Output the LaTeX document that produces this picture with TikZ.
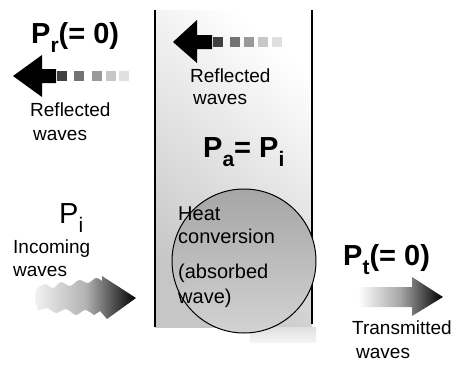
\documentclass[tikz,border=0pt]{standalone}
\usepackage{fontspec}
\setmainfont{Liberation Sans}
\newcommand\psub[1]{\raisebox{-0.32em}{\fontsize{21}{21}\selectfont #1}}
\begin{document}
\begin{tikzpicture}[x=1pt, y=-1pt,
  lbl/.style  = {anchor=base west, inner sep=0pt, font=\fontsize{19}{19}\selectfont},
  bigp/.style = {anchor=base west, inner sep=0pt, font=\fontsize{29}{29}\selectfont\bfseries},
  thinp/.style = {bigp, font=\fontsize{29}{29}\selectfont},
  inner/.style = {anchor=base west, inner sep=0pt, font=\fontsize{20}{20}\selectfont},
  sq/.style   = {minimum size=10pt, inner sep=0pt},
  wall/.style = {line width=1.8pt},
]
\useasboundingbox (0,0) rectangle (472,367);

% absorbing layer
\shade[top color=white, bottom color=gray!45, shading angle=-40] (155,10) rectangle (312,327);
\shade[top color=gray!25, bottom color=gray!8] (250,327) rectangle (316,342);
\draw[wall] (155,10) -- (155,327);
\draw[wall] (312,10) -- (312,324);

% absorbed part
\shade[draw=black, line width=1pt, top color=gray!70, bottom color=gray!35] (244,261) circle (72);
\node[inner] (heat) at (178,220) {Heat};
\node[inner] (conv) at (178,243) {conversion};
\node[inner] (absb) at (178,278) {(absorbed};
\node[inner] (wave) at (178,303) {wave)};

% reflected waves (outside)
\fill (13,76) -- (42,55) -- (42,69) -- (56,69) -- (56,83) -- (42,83) -- (42,97) -- cycle;
\foreach \x/\c in {62/75, 79/55, 97/40, 111/22, 124/12}
  \node[sq, fill=black!\c] at (\x,76) {};
\node[bigp] (pr) at (31,43) {P\psub{r}(= 0)};
\node[lbl] (refl1) at (30,116) {Reflected};
\node[lbl] (refw1) at (33,140) {waves};

% reflected waves (inside)
\fill (173,42) -- (197,20) -- (197,35) -- (212,35) -- (212,49) -- (197,49) -- (197,63) -- cycle;
\foreach \x/\c in {218/75, 235/55, 249/40, 263/22, 277/12}
  \node[sq, fill=black!\c] at (\x,42) {};
\node[lbl] (refl2) at (190,82) {Reflected};
\node[lbl] (refw2) at (193,104) {waves};

\node[bigp] (pa) at (203,157) {P\psub{a}= P\psub{i}};

% incoming waves
\node[thinp] (pi) at (59,223) {P\psub{i}};
\node[lbl] (inc) at (13,253) {Incoming};
\node[lbl] (incw) at (13,276) {waves};
\shade[left color=gray!10, right color=black, middle color=gray!60]
  plot[smooth] coordinates {(36,289) (45,284) (53,288) (61,282) (70,286) (79,280) (88,283) (96,278) (102,281)}
  -- (102,276) -- (136,298) -- (107,319) -- (100,311)
  -- plot[smooth] coordinates {(94,315) (85,310) (76,315) (66,309) (56,313) (47,308) (38,311)}
  -- (35,300) -- cycle;

% transmitted waves
\node[bigp] (pt) at (343,265) {P\psub{t}(= 0)};
\shade[left color=white, right color=black, middle color=gray!70]
  (358,287) -- (412,287) -- (412,277) -- (443,297) -- (412,316) -- (412,307) -- (358,307) -- cycle;
\node[lbl] (trans) at (352,334) {Transmitted};
\node[lbl] (transw) at (356,358) {waves};
\end{tikzpicture}
\end{document}
